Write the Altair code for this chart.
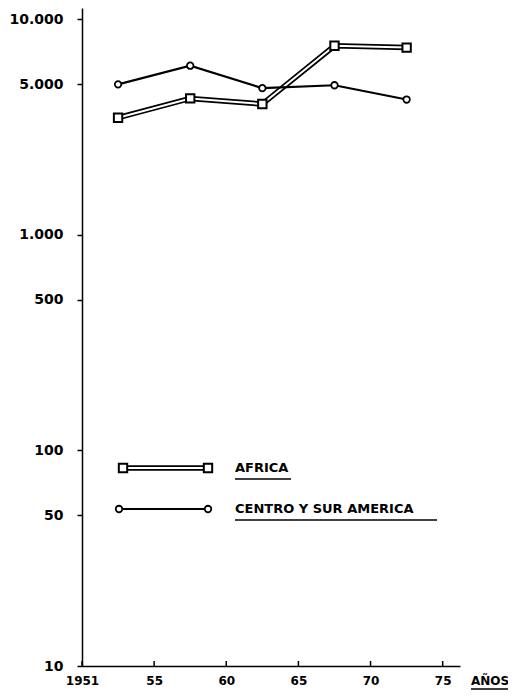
import altair as alt
import pandas as pd

# ---- data ----
years = [1952.5, 1957.5, 1962.5, 1967.5, 1972.5]
africa = [3500, 4300, 4050, 7550, 7400]
centro_sur_america = [5000, 6100, 4800, 4950, 4250]

y_tick_values = [10, 50, 100, 500, 1000, 5000, 10000]
y_tick_labels = ["10", "50", "100", "500", "1.000", "5.000", "10.000"]
x_tick_values = [1950, 1955, 1960, 1965, 1970, 1975]
x_tick_labels = ["1951", "55", "60", "65", "70", "75"]
series_names = ["AFRICA", "CENTRO Y SUR AMERICA"]
x_axis_title = "AÑOS"

W, H = 378, 658
FONT = "DejaVu Sans"


def label_expr(values, labels):
    expr = "''"
    for v, l in reversed(list(zip(values, labels))):
        expr = f"datum.value == {v} ? '{l}' : ({expr})"
    return expr


xscale = alt.Scale(domain=[1950, 1976.2], nice=False, zero=False)
yscale = alt.Scale(type="log", domain=[10, 11300], nice=False)

xaxis = alt.Axis(values=x_tick_values, labelExpr=label_expr(x_tick_values, x_tick_labels),
                 ticks=False, grid=False, title=None, domainColor="black", domainWidth=1.5,
                 labelFont=FONT, labelFontWeight="bold", labelFontSize=12, labelColor="black",
                 labelPadding=9, labelFlush=False, labelOverlap=False)
yaxis = alt.Axis(values=y_tick_values, labelExpr=label_expr(y_tick_values, y_tick_labels),
                 grid=False, title=None, domainColor="black", domainWidth=1.5,
                 tickColor="black", tickWidth=1.5, tickSize=5,
                 labelFont=FONT, labelFontWeight="bold", labelFontSize=14, labelColor="black",
                 labelPadding=14, labelFlush=False, labelOverlap=False)

df_af = pd.DataFrame({"year": years, "value": africa})
df_cs = pd.DataFrame({"year": years, "value": centro_sur_america})
df_ticks = pd.DataFrame({"year": x_tick_values, "value": [10] * len(x_tick_values)})

X = alt.X("year:Q", scale=xscale, axis=xaxis)
Y = alt.Y("value:Q", scale=yscale, axis=yaxis)

ticks = alt.Chart(df_ticks).mark_rule(color="black", strokeWidth=1.5).encode(
    x=X, y=alt.value(H), y2=alt.value(H - 5))

af_outer = alt.Chart(df_af).mark_line(color="black", strokeWidth=5.5).encode(x=X, y=Y)
af_inner = alt.Chart(df_af).mark_line(color="white", strokeWidth=2).encode(x=X, y=Y)
cs_line = alt.Chart(df_cs).mark_line(color="black", strokeWidth=2.2).encode(x=X, y=Y)
af_pts = alt.Chart(df_af).mark_point(shape="square", filled=True, fill="white", stroke="black",
                                     strokeWidth=2, size=70, opacity=1).encode(x=X, y=Y)
cs_pts = alt.Chart(df_cs).mark_point(shape="circle", filled=True, fill="white", stroke="black",
                                     strokeWidth=1.8, size=42, opacity=1).encode(x=X, y=Y)

# ---- legend (drawn by hand inside the plot) ----
one = pd.DataFrame({"k": [0]})
ly_af, ly_cs = 460, 501
lx0, lx1, ltx = 41, 126, 153

leg_af_outer = alt.Chart(one).mark_rule(color="black", strokeWidth=5.5).encode(
    x=alt.value(lx0), x2=alt.value(lx1), y=alt.value(ly_af))
leg_af_inner = alt.Chart(one).mark_rule(color="white", strokeWidth=2).encode(
    x=alt.value(lx0), x2=alt.value(lx1), y=alt.value(ly_af))
leg_af_sq = alt.layer(*[
    alt.Chart(one).mark_point(shape="square", filled=True, fill="white", stroke="black",
                              strokeWidth=2, size=70, opacity=1).encode(x=alt.value(px), y=alt.value(ly_af))
    for px in (lx0, lx1)])
leg_cs_line = alt.Chart(one).mark_rule(color="black", strokeWidth=1.8).encode(
    x=alt.value(lx0 - 4), x2=alt.value(lx1), y=alt.value(ly_cs))
leg_cs_pt = alt.layer(*[
    alt.Chart(one).mark_point(shape="circle", filled=True, fill="white", stroke="black",
                              strokeWidth=1.8, size=42, opacity=1).encode(x=alt.value(px), y=alt.value(ly_cs))
    for px in (lx0 - 4, lx1)])
leg_txt_af = alt.Chart(one).mark_text(align="left", baseline="middle", font=FONT, fontWeight="bold",
                                      fontSize=13, color="black").encode(
    x=alt.value(ltx), y=alt.value(ly_af), text=alt.value(series_names[0]))
leg_txt_cs = alt.Chart(one).mark_text(align="left", baseline="middle", font=FONT, fontWeight="bold",
                                      fontSize=13, color="black").encode(
    x=alt.value(ltx), y=alt.value(ly_cs), text=alt.value(series_names[1]))
leg_ul_af = alt.Chart(one).mark_rule(color="black", strokeWidth=1.5).encode(
    x=alt.value(ltx), x2=alt.value(ltx + 56), y=alt.value(ly_af + 11))
leg_ul_cs = alt.Chart(one).mark_rule(color="black", strokeWidth=1.5).encode(
    x=alt.value(ltx), x2=alt.value(ltx + 202), y=alt.value(ly_cs + 11))

anos_txt = alt.Chart(one).mark_text(align="center", baseline="middle", font=FONT, fontWeight="bold",
                                    fontSize=12, color="black").encode(
    x=alt.value(408), y=alt.value(673), text=alt.value(x_axis_title))
anos_ul = alt.Chart(one).mark_rule(color="black", strokeWidth=1.5).encode(
    x=alt.value(389), x2=alt.value(427), y=alt.value(681))

chart = alt.layer(
    ticks, af_outer, af_inner, cs_line, af_pts, cs_pts,
    leg_af_outer, leg_af_inner, leg_af_sq, leg_cs_line, leg_cs_pt,
    leg_txt_af, leg_txt_cs, leg_ul_af, leg_ul_cs, anos_txt, anos_ul,
).properties(
    width=W, height=H,
    background="white",
    autosize=alt.AutoSizeParams(type="none"),
    padding={"left": 74, "top": 0, "right": 48, "bottom": 24},
).configure_view(stroke=None, strokeWidth=0)

chart.save("out.html", embed_options={"renderer": "svg", "actions": False})
